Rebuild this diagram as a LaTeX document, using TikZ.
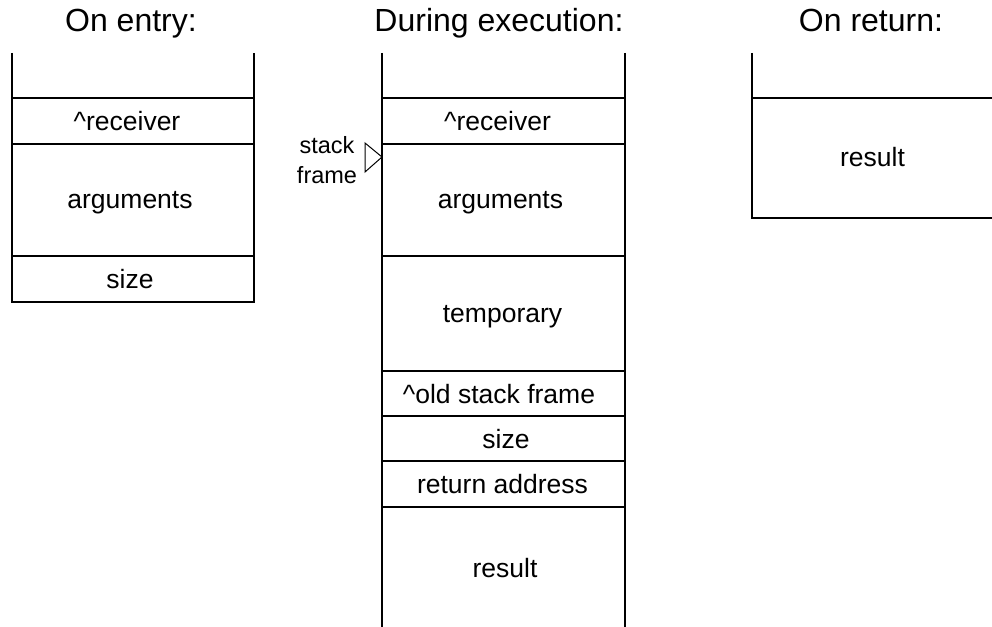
\documentclass[tikz,border=0pt]{standalone}
\usepackage{fontspec}
\setmainfont{Liberation Sans}
\begin{document}
\begin{tikzpicture}[x=1pt, y=-1pt, line width=1.2pt,              % one unit is one pixel, y goes down
    title/.style={anchor=base, inner sep=0pt, font=\fontsize{32}{36}\selectfont},
    cell/.style={anchor=base, inner sep=0pt, font=\fontsize{26.5}{30}\selectfont},
    pointer/.style={align=center, inner sep=0pt, font=\fontsize{23.5}{30}\selectfont}]
    \clip (0,0) rectangle (992,626);
    % titles
    \node[title] (entry) at (131,32) {On entry:};
    \node[title] (during) at (499,32) {During execution:};
    \node[title] (onreturn) at (871,32) {On return:};

    % on entry
    \draw (12,53) -- (12,302) -- (254,302) -- (254,53);
    \draw (12,98) -- (254,98);
    \draw (12,144) -- (254,144);
    \draw (12,256) -- (254,256);
    \node[cell] (erecv) at (127,130) {\textasciicircum receiver};
    \node[cell] (eargs) at (130,208) {arguments};
    \node[cell] (esize) at (130,288) {size};

    % during execution
    \draw (382,53) -- (382,640);
    \draw (625,53) -- (625,640);
    \draw (382,98) -- (625,98);
    \draw (382,144) -- (625,144);
    \draw (382,256) -- (625,256);
    \draw (382,371) -- (625,371);
    \draw (382,416) -- (625,416);
    \draw (382,461) -- (625,461);
    \draw (382,507) -- (625,507);
    \node[cell] (drecv) at (497.5,130.5) {\textasciicircum receiver};
    \node[cell] (dargs) at (500.5,208) {arguments};
    \node[cell] (dtemp) at (502.5,322.5) {temporary};
    \node[cell] (dold) at (499,403) {\textasciicircum old stack frame};
    \node[cell] (dsize) at (506,448) {size};
    \node[cell] (daddr) at (502.5,493.5) {return address};
    \node[cell] (dres) at (505,577) {result};

    % stack frame pointer
    \coordinate (fp) at (382,157);
    \node[pointer] (sf) at (327,160) {stack\\frame};
    \draw[fill=white, line width=1pt] (fp) -- ++(-17,-14) -- ++(0,29) -- cycle;

    % on return
    \draw (752,53) -- (752,218) -- (1000,218);
    \draw (752,98) -- (1000,98);
    \node[cell] (rres) at (872.5,166) {result};
\end{tikzpicture}
\end{document}
